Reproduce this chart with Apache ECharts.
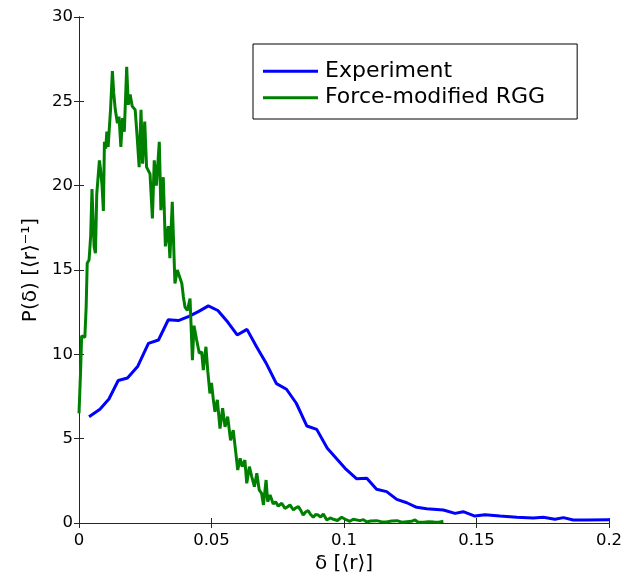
<!DOCTYPE html>
<html>
<head>
<meta charset="utf-8">
<script src="https://cdn.jsdelivr.net/npm/echarts@6/dist/echarts.min.js"></script>
<style>
html,body{margin:0;padding:0;background:#fff;}
#chart{width:627px;height:582px;}
</style>
</head>
<body>
<div id="chart"></div>
<script>
// Data
var xTicks = [0, 0.05, 0.1, 0.15, 0.2];
var yTicks = [0, 5, 10, 15, 20, 25, 30];
var seriesNames = ['Experiment', 'Force-modified RGG'];

var experimentDelta = [0.0038,0.0079,0.0113,0.0148,0.0183,0.0222,0.0262,0.0300,0.0337,0.0375,0.0415,0.0452,0.0488,0.0524,0.0562,0.0597,0.0634,0.0670,0.0708,0.0745,0.0783,0.0820,0.0860,0.0897,0.0937,0.1004,0.1048,0.1086,0.1123,0.1161,0.1199,0.1237,0.1274,0.1312,0.1375,0.1419,0.1450,0.1494,0.1532,0.1589,0.1652,0.1714,0.1752,0.1796,0.1828,0.1865,0.1916,0.2000];
var experimentP = [6.3,6.75,7.35,8.45,8.6,9.3,10.65,10.85,12.05,12.0,12.25,12.55,12.87,12.6,11.9,11.15,11.48,10.45,9.42,8.26,7.93,7.1,5.75,5.55,4.43,3.24,2.62,2.65,2.0,1.86,1.4,1.2,0.93,0.85,0.77,0.57,0.67,0.41,0.49,0.41,0.34,0.3,0.34,0.22,0.32,0.18,0.18,0.2];

var rggDelta = [0,0.0006,0.001,0.0017,0.0022,0.0027,0.0031,0.0038,0.0044,0.0049,0.0053,0.0057,0.0062,0.0067,0.0072,0.0077,0.0081,0.0087,0.0092,0.0096,0.0101,0.0105,0.011,0.0114,0.0119,0.0126,0.0131,0.0137,0.0145,0.0151,0.0158,0.0164,0.0171,0.018,0.0186,0.0193,0.0201,0.0212,0.0219,0.0227,0.0234,0.024,0.0248,0.0255,0.0262,0.0268,0.0277,0.0284,0.0292,0.0303,0.0309,0.0318,0.0326,0.0337,0.0343,0.0352,0.0362,0.0371,0.0377,0.0388,0.0394,0.04,0.0409,0.0419,0.0428,0.0434,0.0444,0.0454,0.0463,0.0469,0.0479,0.0486,0.0494,0.05,0.0507,0.0513,0.0522,0.0532,0.0542,0.0551,0.0561,0.0572,0.0582,0.0592,0.0599,0.0608,0.0616,0.0626,0.0633,0.0643,0.0652,0.0662,0.0671,0.068,0.0689,0.0696,0.0706,0.0712,0.0721,0.0733,0.0742,0.0752,0.0765,0.0777,0.0786,0.0796,0.0809,0.0818,0.0828,0.0837,0.0846,0.0855,0.0865,0.0874,0.0884,0.0893,0.0903,0.0912,0.0922,0.0935,0.0948,0.096,0.0975,0.0991,0.101,0.1022,0.1035,0.106,0.1073,0.1086,0.11,0.1123,0.114,0.116,0.118,0.12,0.1218,0.1237,0.1255,0.1268,0.128,0.13,0.132,0.134,0.1358,0.1375];
var rggP = [6.5,9.0,11.1,11.2,11.0,12.8,15.4,15.6,17.0,19.8,18.0,16.4,16.0,19.5,20.5,21.5,21.0,20.0,18.5,22.6,22.2,23.2,22.3,23.3,24.5,26.8,25.5,24.5,23.7,24.1,22.3,24.0,23.2,27.05,24.8,25.4,24.7,24.5,23.0,21.1,24.5,21.3,23.8,21.1,21.0,20.7,18.06,21.5,20.0,22.6,18.55,20.5,16.4,17.6,15.7,19.05,14.2,15.0,15.1,14.2,13.4,12.8,12.6,13.3,9.66,11.7,10.85,10.06,10.15,9.07,10.45,9.0,7.68,8.3,7.3,6.6,7.3,5.6,6.8,5.7,6.3,4.9,5.5,4.13,3.14,3.83,3.34,3.73,2.35,3.34,2.74,2.15,2.95,1.96,1.76,1.07,2.55,1.26,1.66,1.13,1.25,1.0,1.17,0.87,0.95,1.07,0.77,0.9,0.97,0.75,0.47,0.65,0.73,0.5,0.34,0.5,0.47,0.35,0.53,0.18,0.3,0.22,0.15,0.34,0.18,0.1,0.22,0.14,0.2,0.06,0.12,0.14,0.08,0.06,0.12,0.14,0.05,0.08,0.1,0.18,0.05,0.04,0.08,0.06,0.05,0.1];

function pairs(xs, ys){ var out=[]; for(var i=0;i<xs.length;i++){ out.push([xs[i], ys[i]]); } return out; }

var FONT = 'DejaVu Sans';
var AX = '#262626';
var chart = echarts.init(document.getElementById('chart'), null, {renderer:'canvas'});

function xAxisBase(pos, show){
  return {
    type:'value', position:pos, min:xTicks[0], max:xTicks[xTicks.length-1], interval:0.05,
    axisLine:{show:true, lineStyle:{color:AX, width:1}},
    axisTick:{show:true, inside:true, length:5, lineStyle:{color:AX}},
    splitLine:{show:false},
    axisLabel:{show:show, color:'#000', fontFamily:FONT, fontSize:16.5, margin:9,
      formatter:function(v){ return String(+v.toFixed(2)); }}
  };
}
function yAxisBase(pos, show){
  return {
    type:'value', position:pos, min:yTicks[0], max:yTicks[yTicks.length-1], interval:5,
    axisLine:{show:true, lineStyle:{color:AX, width:1}},
    axisTick:{show:true, inside:true, length:5, lineStyle:{color:AX}},
    splitLine:{show:false},
    axisLabel:{show:show, color:'#000', fontFamily:FONT, fontSize:16.5, margin:6}
  };
}

var xb = xAxisBase('bottom', true);
xb.name = 'δ [⟨r⟩]';
xb.nameLocation = 'middle';
xb.nameGap = 29;
xb.nameTextStyle = {color:'#000', fontFamily:FONT, fontSize:20};
var xt = xAxisBase('top', false);
var yl = yAxisBase('left', true);
yl.name = 'P(δ) [⟨r⟩⁻¹]';
yl.nameLocation = 'middle';
yl.nameGap = 38;
yl.nameTextStyle = {color:'#000', fontFamily:FONT, fontSize:20};
var yr = yAxisBase('right', false);

chart.setOption({
  animation:false,
  backgroundColor:'#ffffff',
  grid:{left:79, right:18, top:17, bottom:59, containLabel:false},
  legend:{
    data:seriesNames,
    orient:'vertical', left:253, top:44,
    icon:'rect', itemWidth:55, itemHeight:3, itemGap:0,
    borderColor:'#000', borderWidth:1, backgroundColor:'#fff',
    padding:[14,32,8,10],
    textStyle:{color:'#000', fontFamily:FONT, fontSize:22, lineHeight:26.5, padding:[0,0,0,2]}
  },
  xAxis:[xb, xt],
  yAxis:[yl, yr],
  series:[
    {name:seriesNames[0], type:'line', xAxisIndex:0, yAxisIndex:0, showSymbol:false, symbol:'none',
     lineStyle:{color:'#0000ff', width:3}, itemStyle:{color:'#0000ff'},
     data:pairs(experimentDelta, experimentP)},
    {name:seriesNames[1], type:'line', xAxisIndex:0, yAxisIndex:0, showSymbol:false, symbol:'none',
     lineStyle:{color:'#008000', width:3}, itemStyle:{color:'#008000'},
     data:pairs(rggDelta, rggP)}
  ]
});
</script>
</body>
</html>
